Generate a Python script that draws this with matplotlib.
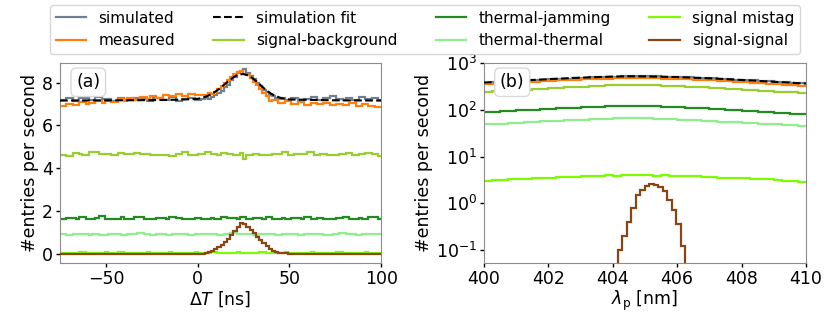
import numpy as np
import matplotlib
matplotlib.use("Agg")
import matplotlib.pyplot as plt

# (a) time difference histograms, bins of 1.75 ns
t_edges = np.linspace(-75, 100, 101)

simulated_t = [
    7.20, 7.20, 7.30, 7.30, 7.14, 7.14, 7.26, 7.26, 7.26, 7.18,
    7.18, 7.32, 7.32, 7.22, 7.22, 7.22, 7.14, 7.14, 7.28, 7.28,
    7.20, 7.20, 7.20, 7.30, 7.30, 7.24, 7.24, 7.16, 7.16, 7.26,
    7.26, 7.26, 7.20, 7.20, 7.32, 7.32, 7.14, 7.14, 7.24, 7.24,
    7.28, 7.28, 7.18, 7.18, 7.22, 7.26, 7.24, 7.34, 7.40, 7.52,
    7.60, 7.78, 7.90, 8.10, 8.26, 8.44, 8.56, 8.62, 8.44, 8.32,
    8.16, 8.00, 7.84, 7.66, 7.58, 7.44, 7.36, 7.30, 7.24, 7.30,
    7.18, 7.18, 7.26, 7.26, 7.14, 7.14, 7.22, 7.22, 7.32, 7.32,
    7.20, 7.20, 7.28, 7.28, 7.36, 7.36, 7.22, 7.22, 7.18, 7.30,
    7.30, 7.20, 7.20, 7.34, 7.34, 7.22, 7.22, 7.30, 7.30, 7.18,
]
measured_t = [
    6.92, 6.92, 7.02, 7.02, 6.96, 6.96, 7.08, 7.08, 6.98, 7.06,
    7.06, 7.12, 7.12, 7.04, 7.16, 7.16, 7.10, 7.10, 7.22, 7.22,
    7.16, 7.26, 7.26, 7.20, 7.20, 7.32, 7.32, 7.24, 7.38, 7.38,
    7.30, 7.30, 7.44, 7.44, 7.36, 7.36, 7.46, 7.46, 7.38, 7.38,
    7.48, 7.48, 7.40, 7.40, 7.44, 7.42, 7.50, 7.46, 7.58, 7.70,
    7.82, 7.96, 8.10, 8.24, 8.38, 8.48, 8.56, 8.40, 8.36, 8.20,
    8.04, 7.88, 7.70, 7.52, 7.36, 7.14, 7.20, 7.20, 7.04, 7.04,
    7.12, 7.12, 7.00, 7.00, 7.10, 7.10, 6.96, 6.96, 7.06, 7.06,
    6.98, 6.98, 7.06, 7.06, 6.94, 6.94, 7.02, 7.02, 6.96, 6.96,
    7.04, 7.04, 6.92, 6.92, 7.00, 7.00, 6.92, 6.92, 6.84, 6.84,
]
sig_bkg_t = [
    4.60, 4.60, 4.55, 4.55, 4.70, 4.70, 4.68, 4.62, 4.62, 4.75,
    4.75, 4.75, 4.64, 4.64, 4.66, 4.66, 4.60, 4.60, 4.72, 4.72,
    4.64, 4.64, 4.64, 4.70, 4.70, 4.66, 4.66, 4.66, 4.62, 4.62,
    4.62, 4.60, 4.60, 4.60, 4.58, 4.58, 4.64, 4.64, 4.74, 4.74,
    4.62, 4.62, 4.60, 4.68, 4.68, 4.76, 4.76, 4.66, 4.66, 4.62,
    4.70, 4.70, 4.64, 4.64, 4.62, 4.62, 4.72, 4.42, 4.60, 4.60,
    4.68, 4.68, 4.62, 4.62, 4.60, 4.60, 4.66, 4.66, 4.64, 4.74,
    4.74, 4.62, 4.62, 4.64, 4.64, 4.66, 4.66, 4.76, 4.76, 4.62,
    4.62, 4.64, 4.64, 4.60, 4.60, 4.62, 4.62, 4.66, 4.66, 4.72,
    4.72, 4.62, 4.62, 4.66, 4.66, 4.70, 4.70, 4.64, 4.64, 4.58,
]
th_jam_t = [
    1.62, 1.62, 1.66, 1.66, 1.66, 1.64, 1.70, 1.70, 1.64, 1.64,
    1.64, 1.66, 1.74, 1.74, 1.64, 1.64, 1.62, 1.62, 1.62, 1.70,
    1.64, 1.64, 1.62, 1.72, 1.72, 1.72, 1.64, 1.64, 1.60, 1.60,
    1.66, 1.66, 1.66, 1.62, 1.70, 1.70, 1.66, 1.66, 1.62, 1.62,
    1.62, 1.64, 1.68, 1.68, 1.62, 1.62, 1.62, 1.66, 1.64, 1.64,
    1.70, 1.70, 1.66, 1.66, 1.66, 1.62, 1.72, 1.72, 1.64, 1.64,
    1.66, 1.66, 1.66, 1.62, 1.70, 1.70, 1.64, 1.64, 1.64, 1.66,
    1.62, 1.62, 1.68, 1.68, 1.68, 1.64, 1.70, 1.70, 1.62, 1.62,
    1.66, 1.66, 1.64, 1.64, 1.64, 1.60, 1.66, 1.66, 1.72, 1.72,
    1.64, 1.64, 1.64, 1.66, 1.62, 1.62, 1.70, 1.72, 1.72, 1.62,
]
th_th_t = [
    0.92, 0.92, 0.88, 0.88, 0.94, 0.94, 0.90, 0.90, 0.90, 0.86,
    0.92, 0.92, 0.88, 0.88, 0.88, 0.94, 0.94, 0.90, 0.90, 0.86,
    0.86, 0.92, 0.92, 0.92, 0.96, 0.96, 0.90, 0.90, 0.88, 0.88,
    0.92, 0.92, 0.92, 0.88, 0.88, 0.94, 0.94, 0.90, 0.90, 0.90,
    0.86, 0.86, 0.92, 0.92, 0.94, 0.94, 0.90, 0.90, 0.90, 0.88,
    0.88, 0.92, 0.92, 0.96, 0.96, 0.90, 0.90, 0.90, 0.94, 0.94,
    0.88, 0.88, 0.90, 0.90, 0.92, 0.92, 0.92, 0.88, 0.88, 0.94,
    0.94, 0.90, 0.90, 0.90, 0.86, 0.86, 0.92, 0.92, 0.94, 0.94,
    0.90, 0.90, 0.88, 0.88, 0.88, 0.92, 0.92, 0.96, 0.96, 0.90,
    0.90, 0.90, 0.88, 0.88, 0.92, 0.92, 0.94, 0.94, 0.90, 0.90,
]
mistag_t = [
    0.05, 0.05, 0.05, 0.04, 0.04, 0.05, 0.06, 0.06, 0.05, 0.05,
    0.05, 0.05, 0.04, 0.04, 0.06, 0.05, 0.05, 0.05, 0.06, 0.06,
    0.05, 0.05, 0.05, 0.05, 0.04, 0.05, 0.05, 0.06, 0.05, 0.05,
    0.04, 0.05, 0.05, 0.05, 0.06, 0.05, 0.05, 0.05, 0.04, 0.04,
    0.05, 0.05, 0.06, 0.05, 0.05, 0.05, 0.05, 0.06, 0.06, 0.05,
    0.05, 0.04, 0.05, 0.05, 0.05, 0.06, 0.05, 0.05, 0.05, 0.04,
    0.05, 0.05, 0.06, 0.06, 0.05, 0.05, 0.04, 0.05, 0.05, 0.05,
    0.06, 0.05, 0.05, 0.05, 0.04, 0.04, 0.05, 0.05, 0.06, 0.05,
    0.05, 0.05, 0.05, 0.04, 0.05, 0.05, 0.06, 0.06, 0.05, 0.05,
    0.05, 0.04, 0.04, 0.05, 0.05, 0.06, 0.05, 0.05, 0.05, 0.05,
]
sig_sig_t = [
    0, 0, 0, 0, 0, 0, 0, 0, 0, 0,
    0, 0, 0, 0, 0, 0, 0, 0, 0, 0,
    0, 0, 0, 0, 0, 0, 0, 0, 0, 0,
    0, 0, 0, 0, 0, 0, 0, 0, 0, 0,
    0, 0, 0, 0, 0.01, 0.03, 0.06, 0.12, 0.20, 0.30,
    0.42, 0.55, 0.70, 0.88, 1.05, 1.25, 1.42, 1.38, 1.25, 1.10,
    0.95, 0.80, 0.62, 0.48, 0.35, 0.24, 0.15, 0.09, 0.05, 0.03,
    0.02, 0.01, 0, 0, 0, 0, 0, 0, 0, 0,
    0, 0, 0, 0, 0, 0, 0, 0, 0, 0,
    0, 0, 0, 0, 0, 0, 0, 0, 0, 0,
]
fit_t_x = [-75, -50, -25, -10, -5, 0, 2.5, 5, 7.5, 10, 12.5, 15, 17.5, 20, 22.5, 25,
           27.5, 30, 32.5, 35, 37.5, 40, 42.5, 45, 47.5, 50, 75, 100]
fit_t_y = [7.16, 7.17, 7.18, 7.20, 7.22, 7.24, 7.29, 7.36, 7.46, 7.60, 7.76, 7.94, 8.12, 8.28,
           8.38, 8.40, 8.34, 8.20, 8.02, 7.82, 7.63, 7.48, 7.37, 7.29, 7.24, 7.21, 7.17, 7.16]

# (b) wavelength histograms, bins of 0.25 nm
w_edges = np.linspace(400, 410, 41)

simulated_w = [387, 395, 403, 411, 419, 429, 437, 445, 456, 464, 472, 482, 490, 498, 506, 514,
               519, 525, 530, 530, 527, 525, 519, 514, 509, 501, 493, 485, 477, 466, 458, 448,
               440, 429, 419, 411, 400, 390, 382, 371]
measured_w = [360, 368, 375, 383, 390, 398, 405, 413, 422, 430, 438, 446, 453, 460, 467, 472,
              476, 479, 481, 480, 478, 475, 470, 465, 459, 452, 445, 437, 429, 419, 410, 401,
              392, 382, 373, 364, 355, 346, 338, 328]
sig_bkg_w = [245, 250, 256, 262, 268, 274, 280, 286, 293, 299, 305, 311, 318, 324, 330, 336,
             340, 344, 345, 344, 341, 338, 334, 329, 324, 318, 312, 305, 299, 292, 285, 278,
             271, 264, 258, 252, 246, 241, 237, 233]
th_jam_w = [90, 92, 94, 96, 98, 100, 102, 104, 106, 108, 110, 112, 114, 116, 118, 119, 120, 121,
            122, 121, 120, 119, 118, 116, 114, 112, 110, 108, 106, 103, 101, 99, 96, 94, 92, 89,
            87, 85, 83, 81]
th_th_w = [49, 50, 51, 52, 53, 55, 56, 57, 58, 59, 60, 61, 62, 63, 64, 65, 66, 67, 67, 67, 66,
           65, 64, 63, 62, 61, 60, 59, 58, 56, 55, 54, 53, 52, 51, 50, 49, 48, 47, 46]
mistag_w = [3.05, 3.15, 3.20, 3.25, 3.35, 3.30, 3.45, 3.50, 3.55, 3.60, 3.70, 3.65, 3.80, 3.85,
            3.80, 3.95, 3.90, 4.00, 4.10, 3.95, 4.05, 3.90, 4.00, 3.85, 3.90, 3.75, 3.80, 3.65,
            3.70, 3.55, 3.50, 3.45, 3.40, 3.30, 3.25, 3.35, 3.10, 3.05, 2.95, 2.85]
# signal-signal has finer bins (0.14 nm)
ss_edges = np.linspace(404.15, 406.25, 16)
sig_sig_w = [0.10, 0.20, 0.40, 0.80, 1.50, 1.90, 2.30, 2.55, 2.50, 2.20, 1.80, 1.20, 0.70, 0.35, 0.12]
fit_w_x = [400, 401, 402, 403, 404, 404.5, 405, 406, 407, 408, 409, 410]
fit_w_y = [388, 420, 458, 493, 520, 528, 525, 508, 478, 440, 402, 368]

colors = {
    'simulated': '#708090',
    'measured': '#ff7f0e',
    'sig_bkg': '#9acd32',
    'th_jam': '#228b22',
    'th_th': '#90ee90',
    'mistag': '#7cfc00',
    'sig_sig': '#8b4513',
}

plt.rcParams['font.size'] = 12.5
fig = plt.figure(figsize=(8.3, 3.12), dpi=100)
ax1 = fig.add_axes([0.0723, 0.158, 0.387, 0.639])
ax2 = fig.add_axes([0.583, 0.158, 0.388, 0.639])

lw = 1.6
for ax, edges, data, fx, fy in [
    (ax1, t_edges, [simulated_t, measured_t, sig_bkg_t, th_jam_t, th_th_t, mistag_t], fit_t_x, fit_t_y),
    (ax2, w_edges, [simulated_w, measured_w, sig_bkg_w, th_jam_w, th_th_w, mistag_w], fit_w_x, fit_w_y),
]:
    keys = ['simulated', 'measured', 'sig_bkg', 'th_jam', 'th_th', 'mistag']
    for k, vals in zip(keys, data):
        ax.stairs(vals, edges, color=colors[k], lw=lw, baseline=None)
    ax.plot(fx, fy, color='black', ls='--', lw=1.5, zorder=5)

ax1.stairs(sig_sig_t, t_edges, color=colors['sig_sig'], lw=lw, baseline=None, zorder=4)
ax2.stairs(sig_sig_w, ss_edges, color=colors['sig_sig'], lw=lw, baseline=1e-3, zorder=4)

ax1.set_xlim(-75, 100)
ax1.set_ylim(-0.42, 8.9)
ax1.set_yticks([0, 2, 4, 6, 8])
ax1.set_xlabel(r'$\Delta T$ [ns]', labelpad=1)
ax1.set_ylabel('#entries per second', labelpad=2)

ax2.set_yscale('log')
ax2.set_xlim(400, 410)
ax2.set_ylim(0.053, 1000)
ax2.set_xticks([400, 402, 404, 406, 408, 410])
ax2.set_xlabel(r'$\lambda_\mathrm{p}$ [nm]', labelpad=1)
ax2.set_ylabel('#entries per second', labelpad=2)
ax2.minorticks_off()

for ax, lab in [(ax1, '(a)'), (ax2, '(b)')]:
    for s in ax.spines.values():
        s.set_color('0.55')
    ax.tick_params(length=3, width=1, pad=2)
    ax.text(0.088, 0.905, lab, transform=ax.transAxes, ha='center', va='center', fontsize=12.5,
            bbox=dict(boxstyle='round,pad=0.3', fc='white', ec='0.85'), zorder=6)

labels = ['simulated', 'measured', 'simulation fit', 'signal-background',
          'thermal-jamming', 'thermal-thermal', 'signal mistag', 'signal-signal']
handles = [
    plt.Line2D([], [], color=colors['simulated'], lw=lw),
    plt.Line2D([], [], color=colors['measured'], lw=lw),
    plt.Line2D([], [], color='black', ls='--', lw=1.5),
    plt.Line2D([], [], color=colors['sig_bkg'], lw=lw),
    plt.Line2D([], [], color=colors['th_jam'], lw=lw),
    plt.Line2D([], [], color=colors['th_th'], lw=lw),
    plt.Line2D([], [], color=colors['mistag'], lw=lw),
    plt.Line2D([], [], color=colors['sig_sig'], lw=lw),
]
fig.legend(handles, labels, loc='upper center', bbox_to_anchor=(0.512, 1.0), ncol=4,
           fontsize=11, columnspacing=2.5, handlelength=2.0, borderaxespad=0.3)

fig.savefig('out.png', dpi=100)
